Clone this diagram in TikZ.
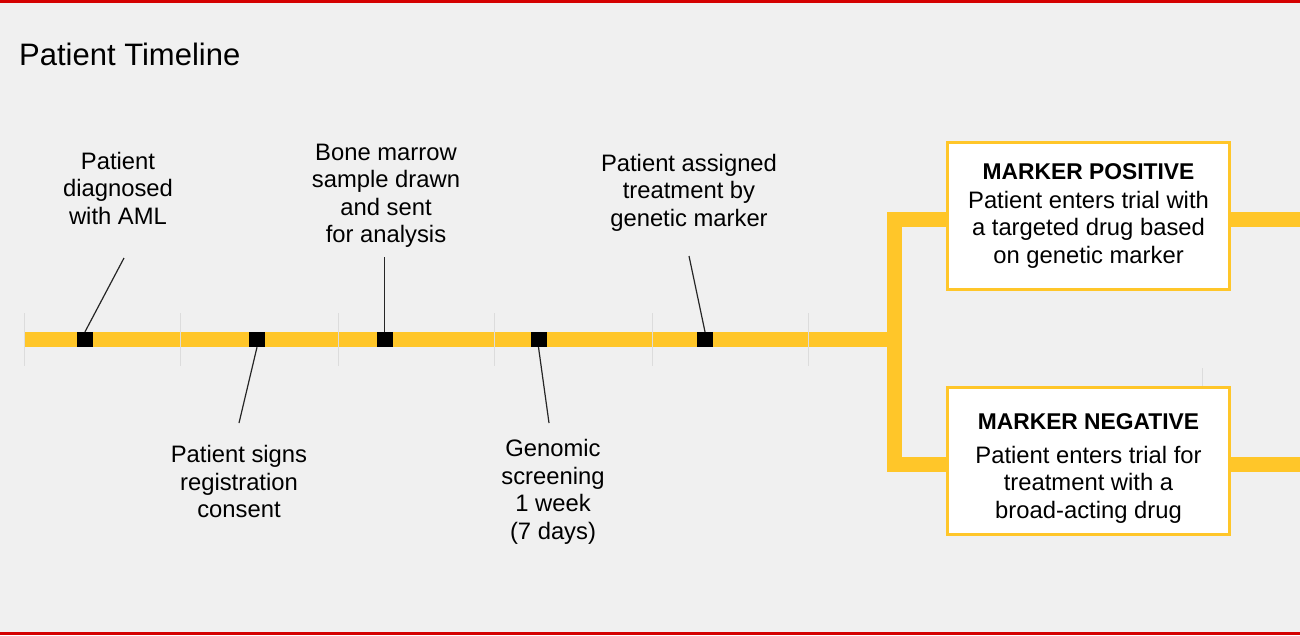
\documentclass[tikz,border=0pt]{standalone}
\usepackage{fontspec}
\setmainfont{Liberation Sans}
\usetikzlibrary{positioning}
\definecolor{bggray}{HTML}{F0F0F0}
\definecolor{lineyellow}{HTML}{FFC629}
\definecolor{edgered}{HTML}{D40000}
\definecolor{tickgray}{HTML}{DCDCDC}

\begin{document}
\begin{tikzpicture}[x=1pt, y=-1pt,
  bar/.style={lineyellow, line width=15pt},
  tickline/.style={tickgray, line width=1pt},
  marker/.style={fill=black, minimum width=16pt, minimum height=15pt, inner sep=0pt},
  leader/.style={black!85, line width=1.2pt},
  event/.style={align=center, inner sep=0pt, font=\fontsize{23.8}{27.5}\selectfont},
  result/.style={draw=lineyellow, fill=white, line width=3pt, minimum width=282pt,
    minimum height=147pt, align=center, inner sep=0pt, font=\fontsize{23.8}{27.5}\selectfont}]
  \fill[bggray] (0,0) rectangle (1300,635);
  \useasboundingbox (0,0) rectangle (1300,635);
  \fill[edgered] (0,0) rectangle (1300,3);
  \fill[edgered] (0,632) rectangle (1300,635);

  \node[anchor=base west, inner sep=0pt, font=\fontsize{31}{36}\selectfont] (title) at (19,65) {Patient Timeline};

  % timeline
  \coordinate (start) at (24,339.5);
  \coordinate (fork) at (894.5,339.5);
  \draw[bar] (start) -- (fork);
  \foreach \x in {24,180.5,338,494,652,808}
    \draw[tickline] (\x,313) -- (\x,366);
  \draw[tickline] (1202,368) -- (1202,386);

  % events
  \node[marker] (diag)    at (85,339.5) {};
  \node[marker] (consent) at (257,339.5) {};
  \node[marker] (sample)  at (384.5,339.5) {};
  \node[marker] (screen)  at (538.5,339.5) {};
  \node[marker] (assign)  at (705,339.5) {};

  \node[event] (diag-text)    at (118,188)   {Patient\\ diagnosed\\ with AML};
  \node[event] (consent-text) at (239,481.5) {Patient signs\\ registration\\ consent};
  \node[event] (sample-text)  at (386,196)   {Bone marrow\\ sample drawn\\ and sent\\ for analysis};
  \node[event] (screen-text)  at (553,492)   {Genomic\\ screening\\ 1 week\\ (7 days)};
  \node[event] (assign-text)  at (689,192.5) {Patient assigned\\ treatment by\\ genetic marker};

  \coordinate (diag-tip)    at (124,258);
  \coordinate (consent-tip) at (239,423);
  \coordinate (sample-tip)  at (384.5,257);
  \coordinate (screen-tip)  at (549,423);
  \coordinate (assign-tip)  at (689,256);

  \draw[leader] (diag-tip) -- (diag.north);
  \draw[leader] (consent-tip) -- (consent.south);
  \draw[leader] (sample-tip) -- (sample.north);
  \draw[leader] (screen-tip) -- (screen.south);
  \draw[leader] (assign-tip) -- (assign.north);

  % outcomes
  \node[result] (pos) at (1088.5,216) {{\bfseries\fontsize{22.8}{27.5}\selectfont MARKER POSITIVE}\\[1.5pt]
    Patient enters trial with\\ a targeted drug based\\ on genetic marker};
  \node[result] (neg) [below=95pt of pos] {\rule{0pt}{30pt}{\bfseries\fontsize{22.8}{27.5}\selectfont MARKER NEGATIVE}\\[6.5pt]
    Patient enters trial for\\ treatment with a\\ broad-acting drug};

  \coordinate (pos-out) at (1300,219.5);
  \coordinate (neg-out) at (1300,464.5);

  \draw[bar, line join=miter] ([yshift=-3.5pt]pos.west) -| (fork) |- ([yshift=-3.5pt]neg.west);
  \draw[bar] ([yshift=-3.5pt]pos.east) -- (pos-out);
  \draw[bar] ([yshift=-3.5pt]neg.east) -- (neg-out);
\end{tikzpicture}
\end{document}
